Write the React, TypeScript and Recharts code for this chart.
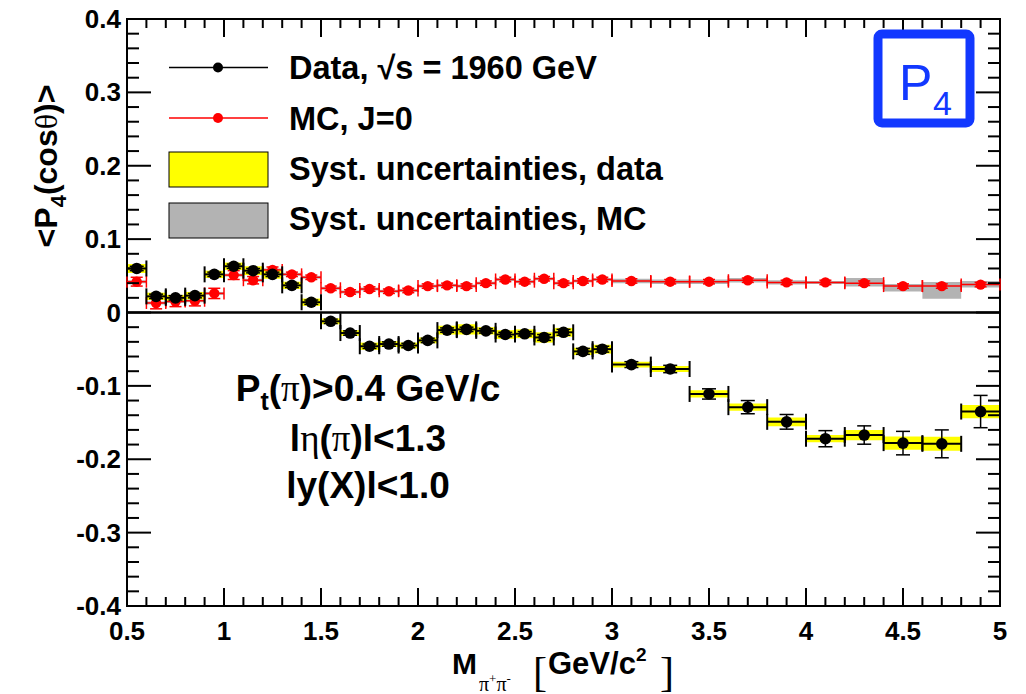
import { ComposedChart, Scatter, XAxis, YAxis, ErrorBar, ReferenceArea, ReferenceLine } from "recharts"

// bins of M(pi+pi-) [GeV/c^2]
const binCenters = [
  0.55, 0.65, 0.75, 0.85, 0.95, 1.05, 1.15, 1.25, 1.35, 1.45,
  1.55, 1.65, 1.75, 1.85, 1.95, 2.05, 2.15, 2.25, 2.35, 2.45,
  2.55, 2.65, 2.75, 2.85, 2.95, 3.1, 3.3, 3.5, 3.7, 3.9,
  4.1, 4.3, 4.5, 4.7, 4.9,
]
const binHalfWidths = [
  0.05, 0.05, 0.05, 0.05, 0.05, 0.05, 0.05, 0.05, 0.05, 0.05,
  0.05, 0.05, 0.05, 0.05, 0.05, 0.05, 0.05, 0.05, 0.05, 0.05,
  0.05, 0.05, 0.05, 0.05, 0.05, 0.1, 0.1, 0.1, 0.1, 0.1,
  0.1, 0.1, 0.1, 0.1, 0.1,
]

// data, sqrt(s) = 1960 GeV
const dataValues = [
  0.06, 0.022, 0.02, 0.023, 0.052, 0.063, 0.057, 0.052, 0.037, 0.014,
  -0.012, -0.028, -0.046, -0.043, -0.045, -0.038, -0.024, -0.023, -0.025, -0.03,
  -0.029, -0.034, -0.027, -0.053, -0.05, -0.071, -0.077, -0.111, -0.129, -0.149,
  -0.172, -0.167, -0.178, -0.179, -0.135,
]
const dataStat = [
  0.003, 0.003, 0.003, 0.003, 0.003, 0.003, 0.003, 0.003, 0.003, 0.003,
  0.003, 0.003, 0.003, 0.003, 0.003, 0.003, 0.003, 0.003, 0.003, 0.003,
  0.003, 0.004, 0.004, 0.004, 0.004, 0.004, 0.005, 0.007, 0.009, 0.01,
  0.011, 0.0125, 0.016, 0.019, 0.022,
]
const dataSyst = [
  0.006, 0.005, 0.004, 0.005, 0.005, 0.005, 0.006, 0.006, 0.005, 0.005,
  0.004, 0.004, 0.005, 0.004, 0.004, 0.004, 0.006, 0.007, 0.005, 0.006,
  0.006, 0.007, 0.006, 0.005, 0.006, 0.004, 0.004, 0.005, 0.005, 0.006,
  0.005, 0.007, 0.009, 0.0095, 0.009,
]

// MC, J=0
const mcValues = [
  0.042, 0.013, 0.015, 0.016, 0.026, 0.051, 0.044, 0.058, 0.052, 0.048,
  0.033, 0.028, 0.032, 0.029, 0.03, 0.036, 0.037, 0.036, 0.04, 0.045,
  0.042, 0.046, 0.04, 0.043, 0.045, 0.043, 0.042, 0.042, 0.044, 0.041,
  0.041, 0.04, 0.036, 0.036, 0.038,
]
const mcStat = [
  0.006, 0.008, 0.007, 0.007, 0.007, 0.006, 0.005, 0.004, 0.003, 0.003,
  0.003, 0.003, 0.003, 0.003, 0.003, 0.003, 0.003, 0.003, 0.003, 0.003,
  0.003, 0.003, 0.003, 0.003, 0.003, 0.003, 0.003, 0.003, 0.003, 0.003,
  0.003, 0.003, 0.003, 0.003, 0.003,
]
const mcSystDown = [
  0.002, 0.002, 0.002, 0.002, 0.002, 0.002, 0.002, 0.002, 0.002, 0.002,
  0.002, 0.002, 0.002, 0.002, 0.002, 0.002, 0.002, 0.002, 0.002, 0.002,
  0.002, 0.002, 0.002, 0.002, 0.002, 0.003, 0.003, 0.003, 0.003, 0.003,
  0.002, 0.0045, 0.0073, 0.0173, 0.004,
]
const mcSystUp = [
  0.002, 0.002, 0.002, 0.002, 0.002, 0.002, 0.002, 0.002, 0.002, 0.002,
  0.002, 0.002, 0.002, 0.002, 0.002, 0.002, 0.002, 0.002, 0.002, 0.002,
  0.002, 0.002, 0.002, 0.002, 0.002, 0.003, 0.003, 0.003, 0.003, 0.003,
  0.002, 0.007, 0.003, 0.0054, 0.005,
]

const xMajorTicks = [0.5, 1, 1.5, 2, 2.5, 3, 3.5, 4, 4.5, 5]
const xTickLabels = ["0.5", "1", "1.5", "2", "2.5", "3", "3.5", "4", "4.5", "5"]
const yMajorTicks = [-0.4, -0.3, -0.2, -0.1, 0, 0.1, 0.2, 0.3, 0.4]
const yTickLabels = ["-0.4", "-0.3", "-0.2", "-0.1", "0", "0.1", "0.2", "0.3", "0.4"]

const W = 1026
const H = 694
const PLOT_L = 127
const PLOT_R = 1000
const PLOT_T = 19
const PLOT_B = 606
const FONT = "'Liberation Sans', Arial, Helvetica, sans-serif"
const SERIF = "'Liberation Serif', 'DejaVu Serif', serif"
const BLUE = "#1238ff"

// 5 subdivisions between major ticks (ROOT style)
function withMinor(majors: number[]) {
  const out: number[] = []
  for (let i = 0; i < majors.length - 1; i++) {
    const step = (majors[i + 1] - majors[i]) / 5
    for (let k = 0; k < 5; k++) out.push(Math.round((majors[i] + k * step) * 1000) / 1000)
  }
  out.push(majors[majors.length - 1])
  return out
}
const xAllTicks = withMinor(xMajorTicks)
const yAllTicks = withMinor(yMajorTicks)

function majorIndex(list: number[], v: number) {
  return list.findIndex((m) => Math.abs(m - v) < 1e-6)
}

const dataRows = binCenters.map((x, i) => ({
  x,
  y: dataValues[i],
  ex: binHalfWidths[i],
  ey: dataStat[i],
}))
const mcRows = binCenters.map((x, i) => ({
  x,
  y: mcValues[i],
  ex: binHalfWidths[i],
  ey: mcStat[i],
}))

function YTick(props: any) {
  const { y, payload } = props
  const idx = majorIndex(yMajorTicks, payload.value)
  const len = idx >= 0 ? 24 : 12
  return (
    <g>
      <line x1={PLOT_L} x2={PLOT_L + len} y1={y} y2={y} stroke="#000" strokeWidth={2} />
      <line x1={PLOT_R} x2={PLOT_R - len} y1={y} y2={y} stroke="#000" strokeWidth={2} />
      {idx >= 0 && (
        <text x={PLOT_L - 6} y={y + 9} textAnchor="end" fontFamily={FONT} fontWeight="bold" fontSize={26} fill="#000">
          {yTickLabels[idx]}
        </text>
      )}
    </g>
  )
}

function XTick(props: any) {
  const { x, payload } = props
  const idx = majorIndex(xMajorTicks, payload.value)
  const len = idx >= 0 ? 18 : 9
  return (
    <g>
      <line x1={x} x2={x} y1={PLOT_B} y2={PLOT_B - len} stroke="#000" strokeWidth={2} />
      <line x1={x} x2={x} y1={PLOT_T} y2={PLOT_T + len} stroke="#000" strokeWidth={2} />
      {idx >= 0 && (
        <text x={x} y={PLOT_B + 34} textAnchor="middle" fontFamily={FONT} fontWeight="bold" fontSize={26} fill="#000">
          {xTickLabels[idx]}
        </text>
      )}
    </g>
  )
}

const blackDot = (p: any) => <circle cx={p.cx} cy={p.cy} r={5.8} fill="#000" />
const redDot = (p: any) => <circle cx={p.cx} cy={p.cy} r={5.2} fill="#ff0000" />

function Overlay() {
  return (
    <svg width={W} height={H} style={{ position: "absolute", left: 0, top: 0, pointerEvents: "none" }}>
      {/* legend */}
      <line x1={169} x2={268} y1={67.5} y2={67.5} stroke="#000" strokeWidth={1.5} />
      <circle cx={218} cy={67.5} r={5} fill="#000" />
      <line x1={169} x2={268} y1={118} y2={118} stroke="#ff0000" strokeWidth={1.5} />
      <circle cx={218} cy={118} r={5} fill="#ff0000" />
      <rect x={169} y={152} width={99} height={35} fill="#ffff00" stroke="#000" strokeWidth={1} />
      <rect x={169} y={203} width={99} height={35} fill="#b3b3b3" stroke="#000" strokeWidth={1} />
      <g fontFamily={FONT} fontWeight="bold" fontSize={32.5} fill="#000">
        <text x={289} y={79}>Data, √s = 1960 GeV</text>
        <text x={289} y={130}>MC, J=0</text>
        <text x={289} y={180}>Syst. uncertainties, data</text>
        <text x={289} y={230}>Syst. uncertainties, MC</text>
      </g>

      {/* cuts */}
      <g fontFamily={FONT} fontWeight="bold" fontSize={37} fill="#000" textAnchor="middle">
        <text x={368} y={401}>
          P<tspan fontSize={25} dy={9}>t</tspan>
          <tspan dy={-9}>(</tspan>
          <tspan fontFamily={SERIF} fontWeight="normal">π</tspan>
          <tspan>)&gt;0.4 GeV/c</tspan>
        </text>
        <text x={368} y={451}>
          l<tspan fontFamily={SERIF} fontWeight="normal">η</tspan>
          <tspan>(</tspan>
          <tspan fontFamily={SERIF} fontWeight="normal">π</tspan>
          <tspan>)l&lt;1.3</tspan>
        </text>
        <text x={368} y={498}>ly(X)l&lt;1.0</text>
      </g>

      {/* P4 tag */}
      <rect x={878} y={34} width={92} height={89} rx={4} fill="#fff" stroke={BLUE} strokeWidth={9} />
      <text x={899} y={100} fontFamily={FONT} fontSize={50} fill={BLUE}>P</text>
      <text x={933} y={115} fontFamily={FONT} fontSize={34} fill={BLUE}>4</text>

      {/* y title */}
      <text
        transform="translate(57,166) rotate(-90)"
        textAnchor="middle"
        fontFamily={FONT}
        fontWeight="bold"
        fontSize={32}
        fill="#000"
      >
        &lt;P<tspan fontSize={22} dy={9}>4</tspan>
        <tspan dy={-9}>(cos</tspan>
        <tspan fontFamily={SERIF} fontWeight="normal">θ</tspan>
        <tspan>)&gt;</tspan>
      </text>

      {/* x title */}
      <text x={452} y={674} fontFamily={FONT} fontWeight="bold" fontSize={30} fill="#000">M</text>
      <text x={479} y={691} fontFamily={SERIF} fontSize={20} fill="#000">
        π<tspan fontSize={13} dy={-8}>+</tspan>
        <tspan dy={8}>π</tspan>
        <tspan fontSize={13} dy={-8}>-</tspan>
      </text>
      <text x={533} y={686} fontFamily={SERIF} fontSize={42} fill="#000">[</text>
      <text x={548} y={674} fontFamily={FONT} fontWeight="bold" fontSize={31} fill="#000">
        GeV/c<tspan fontSize={19} dy={-13}>2</tspan>
      </text>
      <text x={660} y={686} fontFamily={SERIF} fontSize={42} fill="#000">]</text>
    </svg>
  )
}

export default function App() {
  return (
    <div style={{ position: "absolute", left: 0, top: 0, width: W, height: H, background: "#fff" }}>
      <ComposedChart width={W} height={H} margin={{ top: PLOT_T, right: W - PLOT_R, bottom: 0, left: 0 }}>
        <XAxis
          dataKey="x"
          type="number"
          domain={[0.5, 5]}
          ticks={xAllTicks}
          interval={0}
          height={H - PLOT_B}
          axisLine={false}
          tickLine={false}
          tick={<XTick />}
          allowDataOverflow
        />
        <YAxis
          type="number"
          domain={[-0.4, 0.4]}
          ticks={yAllTicks}
          interval={0}
          width={PLOT_L}
          axisLine={false}
          tickLine={false}
          tick={<YTick />}
          allowDataOverflow
        />

        {binCenters.map((x, i) => (
          <ReferenceArea
            key={"mcs" + i}
            x1={x - binHalfWidths[i]}
            x2={x + binHalfWidths[i]}
            y1={mcValues[i] - mcSystDown[i]}
            y2={mcValues[i] + mcSystUp[i]}
            fill="#b3b3b3"
            fillOpacity={1}
            stroke="none"
          />
        ))}
        {binCenters.map((x, i) => (
          <ReferenceArea
            key={"ds" + i}
            x1={x - binHalfWidths[i]}
            x2={x + binHalfWidths[i]}
            y1={dataValues[i] - dataSyst[i]}
            y2={dataValues[i] + dataSyst[i]}
            fill="#ffff00"
            fillOpacity={1}
            stroke="none"
          />
        ))}

        <ReferenceLine y={0} stroke="#000" strokeWidth={2.5} />
        <ReferenceArea x1={0.5} x2={5} y1={-0.4} y2={0.4} fill="none" stroke="#000" strokeWidth={2} />

        <Scatter data={mcRows} dataKey="y" shape={redDot} isAnimationActive={false}>
          <ErrorBar dataKey="ex" direction="x" width={6} stroke="#ff0000" strokeWidth={1.5} />
          <ErrorBar dataKey="ey" direction="y" width={6} stroke="#ff0000" strokeWidth={1.5} />
        </Scatter>
        <Scatter data={dataRows} dataKey="y" shape={blackDot} isAnimationActive={false}>
          <ErrorBar dataKey="ex" direction="x" width={8} stroke="#000" strokeWidth={2} />
          <ErrorBar dataKey="ey" direction="y" width={7} stroke="#000" strokeWidth={1.5} />
        </Scatter>
      </ComposedChart>
      <Overlay />
    </div>
  )
}
